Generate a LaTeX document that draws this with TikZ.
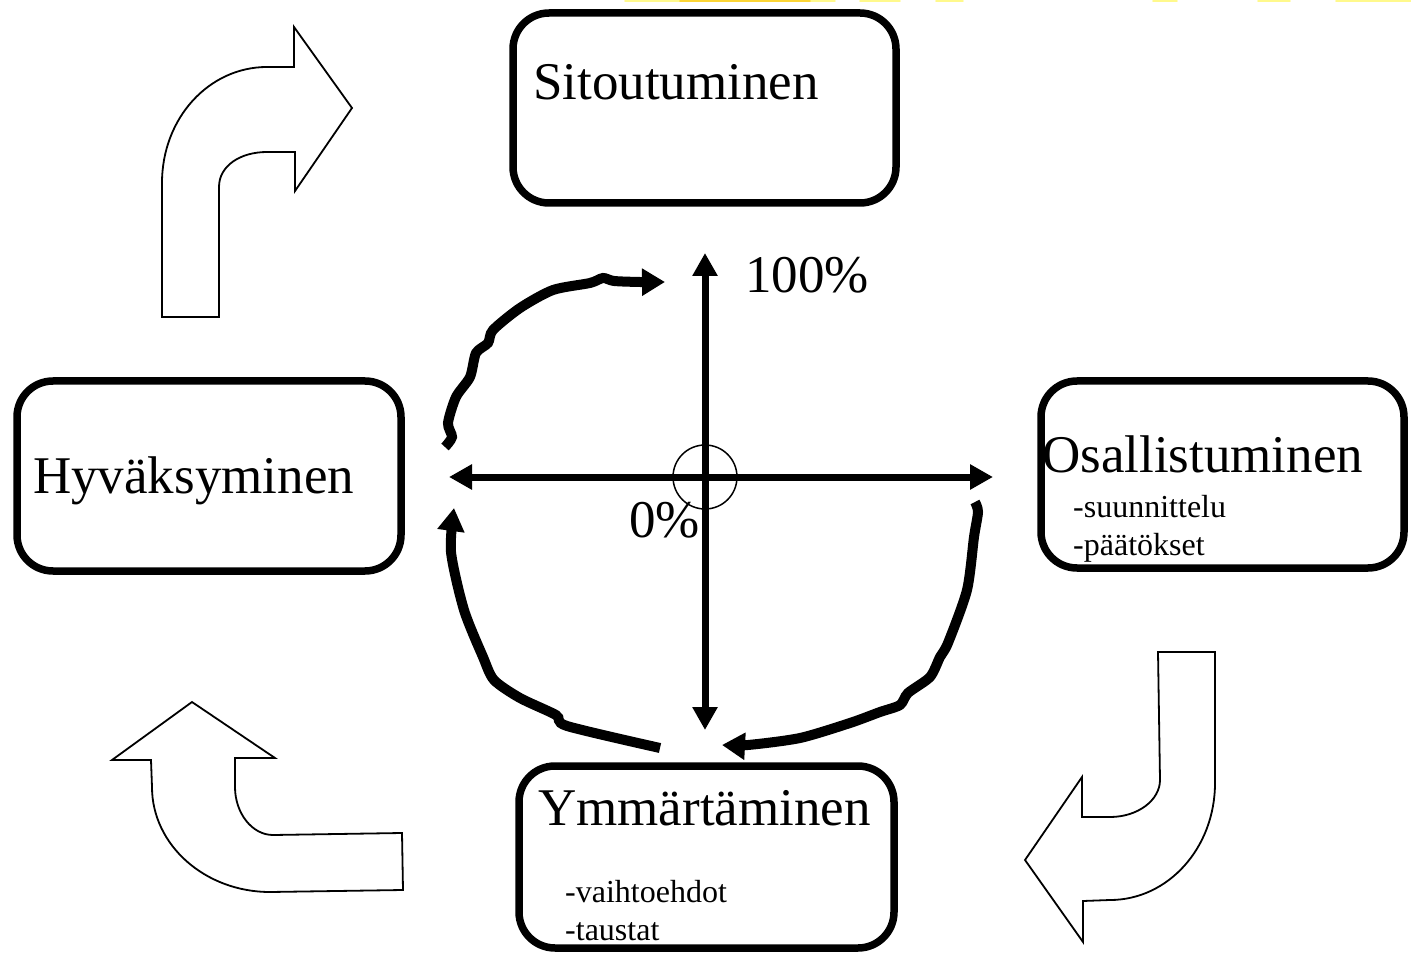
\documentclass[tikz,border=0pt]{standalone}
\usepackage{fontspec}
\setmainfont{Liberation Serif}
\usetikzlibrary{arrows.meta}
\begin{document}
\begin{tikzpicture}[x=1pt,y=-1pt,
  box/.style={draw=black,line width=7.5pt,rounded corners=36pt,fill=white,inner sep=0pt},
  big/.style={inner sep=0pt,anchor=base west,font=\fontsize{53}{60}\selectfont},
  small/.style={inner sep=0pt,anchor=base west,font=\fontsize{32}{38}\selectfont},
  axis/.style={line width=7pt,{Triangle[width=24pt,length=23pt]}-{Triangle[width=24pt,length=23pt]}},
  wavy/.style={line width=10pt,-{Triangle[width=26pt,length=23pt]},smooth,tension=0.45},
  blockarrow/.style={draw=black,line width=1.8pt,fill=white,line join=miter},
  smudge/.style={draw=yellow!45,line width=1.6pt,line cap=round}]
\useasboundingbox[fill=white] (0,0) rectangle (1411,957);

% faint yellow smudges at the top edge
\draw[smudge] (625,0.8) -- (835,0.8);
\draw[smudge,draw=yellow!65!orange!80] (680,0.8) -- (810,0.8);
\draw[smudge] (860,0.8) -- (900,0.8);
\draw[smudge] (936,0.8) -- (963,0.8);
\draw[smudge] (1153,0.8) -- (1177,0.8);
\draw[smudge] (1258,0.8) -- (1290,0.8);
\draw[smudge] (1336,0.8) -- (1411,0.8);

% boxes
\node[box,minimum width=383pt,minimum height=190pt] (sit) at (704.5,108) {};
\node[box,minimum width=384pt,minimum height=190pt] (hyv) at (209,476) {};
\node[box,minimum width=363pt,minimum height=187pt] (osa) at (1222.5,474.5) {};
\node[box,minimum width=375pt,minimum height=182pt] (ymm) at (706.5,857) {};

% box texts
\node[big] (sitt) at (533,100) {Sitoutuminen};
\node[big] (hyvt) at (33,493) {Hyväksyminen};
\node[big] (osat) at (1042,472) {Osallistuminen};
\node[small] (osa1) at (1073,517) {-suunnittelu};
\node[small] (osa2) at (1073,555) {-päätökset};
\node[big] (ymmt) at (538,825) {Ymmärtäminen};
\node[small] (ymm1) at (565,902) {-vaihtoehdot};
\node[small] (ymm2) at (565,940) {-taustat};

% axes
\coordinate (vt) at (705,253);
\coordinate (vb) at (705,730);
\coordinate (hl) at (449,477);
\coordinate (hr) at (993,477);
\node[draw=black,line width=1.5pt,circle,minimum size=64pt,inner sep=0pt] (ctr) at (705,477) {};
\draw[axis] (vb) -- (vt);
\draw[axis] (hl) -- (hr);
\node[big] (p100) at (745,293) {100\%};
\node[big] (p0) at (629,537) {0\%};

% wavy cycle arrows
\coordinate (w1s) at (445,447);
\coordinate (w1e) at (665,282);
\draw[wavy] plot coordinates {(w1s) (452,437) (448,423) (456,397) (470,377) (476,353) (488,343) (493,330) (520,308) (553,290) (590,283) (603,278) (614,281) (640,282) (w1e)};

\coordinate (w2s) at (660,748);
\coordinate (w2e) at (454,508);
\draw[wavy] plot coordinates {(w2s) (567,726) (556,715) (520,698) (494,680) (483,657) (464,610) (451,552) (w2e)};

\coordinate (w3s) at (975,502);
\coordinate (w3e) at (722,745);
\draw[wavy] plot coordinates {(w3s) (978,512) (974,537) (967,590) (948,643) (940,657) (930,677) (908,693) (900,705) (880,712) (850,723) (800,738) (748,745) (w3e)};

% block arrows
\draw[blockarrow] (162,317) -- (219,317) -- (219,187)
  .. controls (219,166) and (240,152) .. (267,152) -- (295,152) -- (295,191)
  -- (352,108) -- (294,27) -- (294,67) -- (267,67)
  .. controls (209,67) and (162,118) .. (162,183) -- cycle;

\draw[blockarrow] (1158,652) -- (1215,652) -- (1215,783)
  .. controls (1215,848) and (1168,900) .. (1110,900) -- (1083,901) -- (1083,942)
  -- (1025,860) -- (1082,777) -- (1082,817) -- (1110,817)
  .. controls (1138,817) and (1160,800) .. (1160,780) -- cycle;

\draw[blockarrow] (192,702) -- (275,758) -- (235,758) -- (235,787)
  .. controls (235,813) and (252,835) .. (273,835) -- (402,833) -- (403,890)
  -- (270,892) .. controls (205,892) and (152,845) .. (152,787)
  -- (151,760) -- (112,760) -- cycle;
\end{tikzpicture}
\end{document}
